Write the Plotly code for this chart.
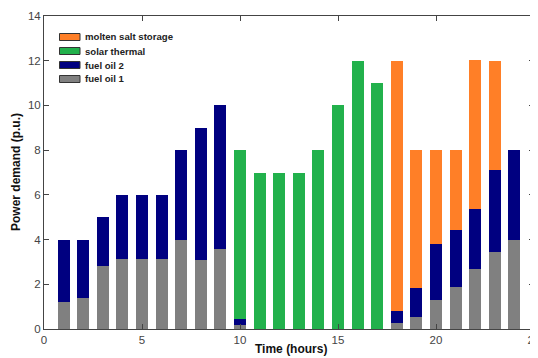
import plotly.graph_objects as go

hours = list(range(1, 25))
fuel_oil_1 = [1.2, 1.4, 2.8, 3.15, 3.15, 3.15, 4.0, 3.1, 3.6, 0.2, 0, 0, 0, 0, 0, 0, 0,
              0.25, 0.55, 1.3, 1.9, 2.7, 3.45, 4.0]
fuel_oil_2 = [2.8, 2.6, 2.2, 2.85, 2.85, 2.85, 4.0, 5.9, 6.4, 0.25, 0, 0, 0, 0, 0, 0, 0,
              0.55, 1.3, 2.5, 2.55, 2.65, 3.65, 4.0]
solar_thermal = [0, 0, 0, 0, 0, 0, 0, 0, 0, 7.55, 7, 7, 7, 8, 10, 12, 11,
                 0, 0, 0, 0, 0, 0, 0]
molten_salt = [0, 0, 0, 0, 0, 0, 0, 0, 0, 0, 0, 0, 0, 0, 0, 0, 0,
               11.2, 6.15, 4.2, 3.55, 6.7, 4.9, 0]

series_names = ["fuel oil 1", "fuel oil 2", "solar thermal", "molten salt storage"]
series_values = [fuel_oil_1, fuel_oil_2, solar_thermal, molten_salt]
series_colors = ["#808080", "#000080", "#22B14C", "#FF7F27"]

x_ticks = [0, 5, 10, 15, 20, 25]
y_ticks = [0, 2, 4, 6, 8, 10, 12, 14]

FONT = "Arial, Liberation Sans, sans-serif"

fig = go.Figure()
for name, vals, col in zip(series_names, series_values, series_colors):
    fig.add_trace(go.Bar(x=hours, y=vals, name=name, marker=dict(color=col, line=dict(width=0)),
                         width=0.62, showlegend=False))

# page body has an 8px default margin -> figure is offset by 8px in the window
OFF = 8
FW, FH = 538 - OFF, 358 - OFF
# plot area geometry in window pixels
L, R, T, B = 44, 534, 16, 329
W, H = R - L, B - T

def px(x):
    return (x - L) / W

def py(y):
    return (B - y) / H

legend_rows = [("molten salt storage", "#FF7F27"), ("solar thermal", "#22B14C"),
               ("fuel oil 2", "#000080"), ("fuel oil 1", "#808080")]
shapes = []
annotations = []
for i, (label, col) in enumerate(legend_rows):
    yc = 37 + i * 14
    shapes.append(dict(type="rect", xref="paper", yref="paper",
                       x0=px(59.5), x1=px(80), y0=py(yc + 3.5), y1=py(yc - 3.5),
                       fillcolor=col, line=dict(color="#333333", width=1)))
    annotations.append(dict(xref="paper", yref="paper", x=px(83), y=py(yc), text="<b>" + label + "</b>",
                            showarrow=False, xanchor="left", yanchor="middle",
                            font=dict(family=FONT, size=9.6, color="#222222")))

annotations.append(dict(xref="paper", yref="paper", x=px(291), y=py(349), text="<b>Time (hours)</b>",
                        showarrow=False, xanchor="center", yanchor="middle",
                        font=dict(family=FONT, size=12, color="#111111")))
annotations.append(dict(xref="paper", yref="paper", x=px(16), y=py(172), text="<b>Power demand (p.u.)</b>",
                        showarrow=False, xanchor="center", yanchor="middle", textangle=-90,
                        font=dict(family=FONT, size=12, color="#111111")))

fig.update_layout(
    width=FW, height=FH,
    margin=dict(l=L - OFF, r=538 - R, t=T - OFF, b=358 - B, autoexpand=False),
    barmode="stack",
    paper_bgcolor="white", plot_bgcolor="white",
    font=dict(family=FONT, size=11, color="#333333"),
    shapes=shapes, annotations=annotations,
    xaxis=dict(range=[0, 25], tickvals=x_ticks, ticks="inside", ticklen=5, tickcolor="#444444",
               showline=True, linecolor="#444444", linewidth=1, mirror="ticks", showgrid=False,
               zeroline=False, automargin=False, ticklabeloverflow="allow",
               tickfont=dict(family=FONT, size=11.5, color="#444444")),
    yaxis=dict(range=[0, 14], tickvals=y_ticks, ticks="inside", ticklen=5, tickcolor="#444444",
               showline=True, linecolor="#444444", linewidth=1, mirror="ticks", showgrid=False,
               zeroline=False, automargin=False, ticklabeloverflow="allow",
               tickfont=dict(family=FONT, size=11.5, color="#444444")),
)

fig.write_html("out.html")
